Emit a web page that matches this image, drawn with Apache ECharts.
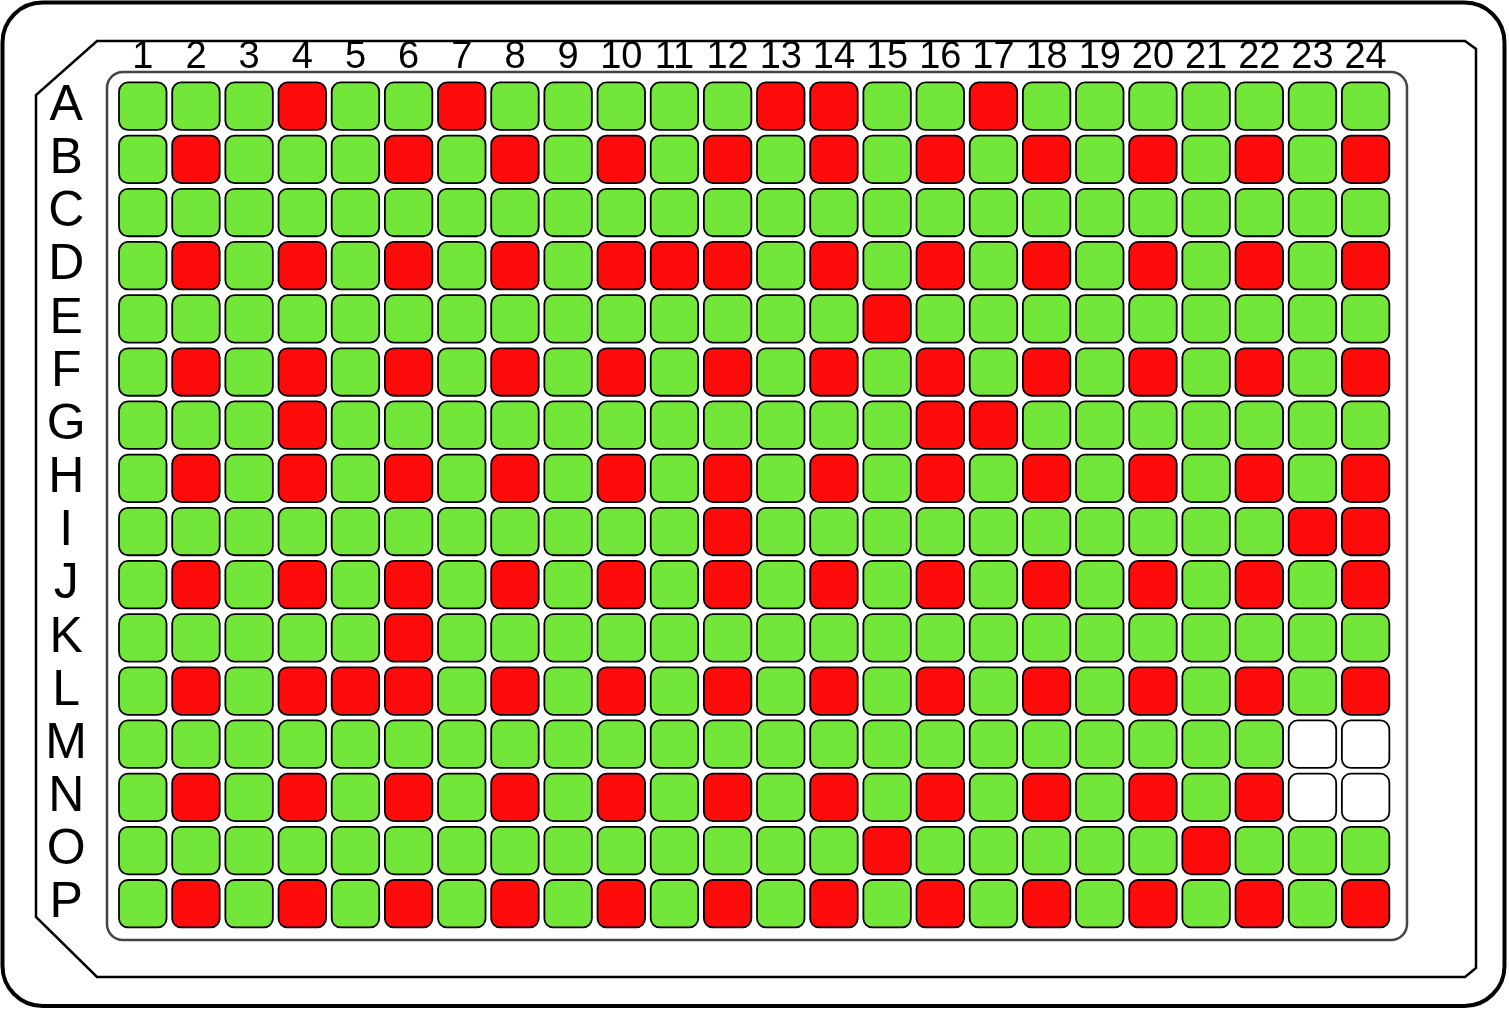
<!DOCTYPE html>
<html>
<head>
<meta charset="utf-8">
<script src="https://cdn.jsdelivr.net/npm/echarts@6/dist/echarts.min.js"></script>
<style>
html,body{margin:0;padding:0;background:#fff;}
#chart{width:1509px;height:1010px;}
</style>
</head>
<body>
<div id="chart"></div>
<script>
// Plate layout: columns and rows
var colLabels = ['1','2','3','4','5','6','7','8','9','10','11','12','13','14','15','16','17','18','19','20','21','22','23','24'];
var rowLabels = ['A','B','C','D','E','F','G','H','I','J','K','L','M','N','O','P'];
// Well status per row: G = green (pass), R = red (hit), W = empty
var rowA = 'GGGRGGRGGGGGRRGGRGGGGGGG';
var rowB = 'GRGGGRGRGRGRGRGRGRGRGRGR';
var rowC = 'GGGGGGGGGGGGGGGGGGGGGGGG';
var rowD = 'GRGRGRGRGRRRGRGRGRGRGRGR';
var rowE = 'GGGGGGGGGGGGGGRGGGGGGGGG';
var rowF = 'GRGRGRGRGRGRGRGRGRGRGRGR';
var rowG = 'GGGRGGGGGGGGGGGRRGGGGGGG';
var rowH = 'GRGRGRGRGRGRGRGRGRGRGRGR';
var rowI = 'GGGGGGGGGGGRGGGGGGGGGGRR';
var rowJ = 'GRGRGRGRGRGRGRGRGRGRGRGR';
var rowK = 'GGGGGRGGGGGGGGGGGGGGGGGG';
var rowL = 'GRGRRRGRGRGRGRGRGRGRGRGR';
var rowM = 'GGGGGGGGGGGGGGGGGGGGGGWW';
var rowN = 'GRGRGRGRGRGRGRGRGRGRGRWW';
var rowO = 'GGGGGGGGGGGGGGRGGGGGRGGG';
var rowP = 'GRGRGRGRGRGRGRGRGRGRGRGR';
var plateRows = [rowA,rowB,rowC,rowD,rowE,rowF,rowG,rowH,rowI,rowJ,rowK,rowL,rowM,rowN,rowO,rowP];

var statusColor = { G: '#73e63a', R: '#fe0c0c', W: '#ffffff' };

var data = [];
plateRows.forEach(function (row, r) {
  for (var c = 0; c < row.length; c++) {
    data.push([c, r, row.charAt(c)]);
  }
});

var chart = echarts.init(document.getElementById('chart'), null, { renderer: 'canvas' });

var option = {
  backgroundColor: '#ffffff',
  animation: false,
  graphic: [
    { type: 'rect', z: -10, silent: true,
      shape: { x: 2.5, y: 2.5, width: 1502, height: 1003.5, r: 40 },
      style: { fill: '#fff', stroke: '#000', lineWidth: 4 } },
    { type: 'polygon', z: -9, silent: true,
      shape: { points: [[97,41],[1465,41],[1476,49],[1476,968],[1465,977],[97,977],[36,917],[36,95]] },
      style: { fill: '#fff', stroke: '#000', lineWidth: 2.5 } },
    { type: 'rect', z: -8, silent: true,
      shape: { x: 107, y: 72, width: 1300, height: 868, r: 16 },
      style: { fill: '#fff', stroke: '#444', lineWidth: 2.5 } }
  ],
  grid: { left: 116.2, top: 79.6, width: 1276, height: 850.7, containLabel: false },
  xAxis: {
    type: 'category', data: colLabels, position: 'top',
    axisLine: { show: false }, axisTick: { show: false }, splitLine: { show: false },
    axisLabel: { interval: 0, margin: 3, color: '#000', fontSize: 38, fontFamily: 'Liberation Sans, Arial, sans-serif' }
  },
  yAxis: {
    type: 'category', data: rowLabels, inverse: true,
    axisLine: { show: false }, axisTick: { show: false }, splitLine: { show: false },
    axisLabel: { interval: 0, margin: 50, align: 'center', color: '#000', fontSize: 50, fontFamily: '"Liberation Sans Narrow", "Liberation Sans", Arial, sans-serif' }
  },
  series: [{
    type: 'custom',
    data: data,
    encode: { x: 0, y: 1 },
    renderItem: function (params, api) {
      var p = api.coord([api.value(0), api.value(1)]);
      var s = api.size([1, 1]);
      var w = s[0] * 0.893, h = s[1] * 0.893;
      var st = data[params.dataIndex][2];
      return {
        type: 'rect',
        shape: { x: p[0] - w / 2, y: p[1] - h / 2, width: w, height: h, r: 9 },
        style: { fill: statusColor[st], stroke: '#000', lineWidth: 1.8 }
      };
    }
  }]
};
chart.setOption(option);
</script>
</body>
</html>
